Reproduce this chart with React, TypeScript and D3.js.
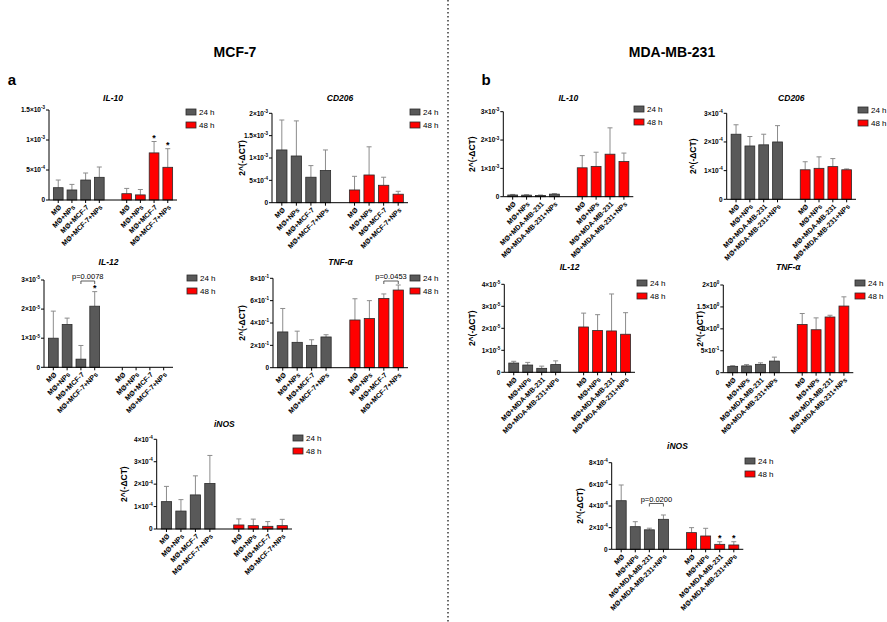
import React from "react";
import * as d3 from "d3";

const MCF_GROUPS = ["MØ", "MØ+NPs", "MØ+MCF-7", "MØ+MCF-7+NPs"];
const MDA_GROUPS = ["MØ", "MØ+NPs", "MØ+MDA-MB-231", "MØ+MDA-MB-231+NPs"];
const TIMES = ["24 h", "48 h"];

// a: MCF-7 (mean, upper SD)
const mcfIl10Mean24 = [2.05e-4, 1.67e-4, 3.33e-4, 3.78e-4];
const mcfIl10Sd24 = [1.28e-4, 0.93e-4, 1.17e-4, 1.72e-4];
const mcfIl10Mean48 = [1.05e-4, 0.85e-4, 7.85e-4, 5.45e-4];
const mcfIl10Sd48 = [0.88e-4, 0.9e-4, 1.9e-4, 3.1e-4];

const mcfCd206Mean24 = [1.18e-3, 1.045e-3, 0.57e-3, 0.72e-3];
const mcfCd206Sd24 = [0.67e-3, 0.785e-3, 0.26e-3, 0.46e-3];
const mcfCd206Mean48 = [0.285e-3, 0.62e-3, 0.39e-3, 0.19e-3];
const mcfCd206Sd48 = [0.305e-3, 0.63e-3, 0.18e-3, 0.065e-3];

const mcfIl12Mean24 = [1.0e-5, 1.47e-5, 0.28e-5, 2.1e-5];
const mcfIl12Sd24 = [0.93e-5, 0.22e-5, 0.47e-5, 0.5e-5];
const mcfIl12Mean48 = [0, 0, 0, 0];
const mcfIl12Sd48 = [0, 0, 0, 0];

const mcfTnfMean24 = [0.32, 0.227, 0.2, 0.275];
const mcfTnfSd24 = [0.21, 0.1, 0.05, 0.02];
const mcfTnfMean48 = [0.427, 0.44, 0.62, 0.695];
const mcfTnfSd48 = [0.19, 0.16, 0.04, 0.045];

const mcfInosMean24 = [1.22e-4, 0.8e-4, 1.52e-4, 2.03e-4];
const mcfInosSd24 = [0.68e-4, 0.51e-4, 0.85e-4, 1.25e-4];
const mcfInosMean48 = [0.18e-4, 0.15e-4, 0.12e-4, 0.15e-4];
const mcfInosSd48 = [0.27e-4, 0.29e-4, 0.21e-4, 0.28e-4];

// b: MDA-MB-231
const mdaIl10Mean24 = [0.06e-3, 0.055e-3, 0.045e-3, 0.09e-3];
const mdaIl10Sd24 = [0.02e-3, 0.015e-3, 0.015e-3, 0.02e-3];
const mdaIl10Mean48 = [1.02e-3, 1.07e-3, 1.5e-3, 1.24e-3];
const mdaIl10Sd48 = [0.43e-3, 0.5e-3, 0.93e-3, 0.3e-3];

const mdaCd206Mean24 = [2.27e-4, 1.86e-4, 1.9e-4, 2.0e-4];
const mdaCd206Sd24 = [0.33e-4, 0.33e-4, 0.37e-4, 0.57e-4];
const mdaCd206Mean48 = [1.03e-4, 1.08e-4, 1.14e-4, 1.03e-4];
const mdaCd206Sd48 = [0.28e-4, 0.4e-4, 0.28e-4, 0.03e-4];

const mdaIl12Mean24 = [0.42e-5, 0.33e-5, 0.18e-5, 0.35e-5];
const mdaIl12Sd24 = [0.08e-5, 0.12e-5, 0.1e-5, 0.17e-5];
const mdaIl12Mean48 = [2.06e-5, 1.9e-5, 1.88e-5, 1.73e-5];
const mdaIl12Sd48 = [0.63e-5, 0.72e-5, 1.68e-5, 0.98e-5];

const mdaTnfMean24 = [0.145, 0.155, 0.19, 0.265];
const mdaTnfSd24 = [0.015, 0.03, 0.035, 0.09];
const mdaTnfMean48 = [1.1, 0.98, 1.27, 1.52];
const mdaTnfSd48 = [0.25, 0.27, 0.04, 0.21];

const mdaInosMean24 = [4.49e-4, 2.09e-4, 1.8e-4, 2.77e-4];
const mdaInosSd24 = [1.45e-4, 0.46e-4, 0.15e-4, 0.4e-4];
const mdaInosMean48 = [1.54e-4, 1.23e-4, 0.46e-4, 0.4e-4];
const mdaInosSd48 = [0.46e-4, 0.71e-4, 0.24e-4, 0.3e-4];

const FONT = "'Liberation Sans', Arial, sans-serif";
const GRAY = "#595959";
const RED = "#ff0000";
const EDGE = "#2b2b2b";
const WHISKER = "#8c8c8c";

// panel options: data refs + layout
const PANELS = [
  { title: "IL-10", groups: MCF_GROUPS, m24: mcfIl10Mean24, s24: mcfIl10Sd24, m48: mcfIl10Mean48, s48: mcfIl10Sd48,
    x0: 49, x1: 177, y0: 200, yTop: 110, max: 1.5e-3, step: 5e-4, titleY: 98, legX: 186, legY: 112, stars48: [2, 3] },
  { title: "CD206", groups: MCF_GROUPS, m24: mcfCd206Mean24, s24: mcfCd206Sd24, m48: mcfCd206Mean48, s48: mcfCd206Sd48,
    x0: 272, x1: 408, y0: 202.7, yTop: 113.3, max: 2e-3, step: 5e-4, titleY: 98, legX: 410, legY: 112, yLabelX: 242 },
  { title: "IL-12", groups: MCF_GROUPS, m24: mcfIl12Mean24, s24: mcfIl12Sd24, m48: mcfIl12Mean48, s48: mcfIl12Sd48,
    x0: 44, x1: 173, y0: 367.3, yTop: 280, max: 3e-5, step: 1e-5, titleY: 262, legX: 187, legY: 278, stars24: [3],
    bracket: { series: 24, from: 2, to: 3, y: 281, label: "p=0.0078" } },
  { title: "TNF-α", groups: MCF_GROUPS, m24: mcfTnfMean24, s24: mcfTnfSd24, m48: mcfTnfMean48, s48: mcfTnfSd48,
    x0: 273, x1: 408, y0: 367.7, yTop: 278.3, max: 0.8, step: 0.2, titleY: 262, legX: 410, legY: 278, yLabelX: 242,
    bracket: { series: 48, from: 2, to: 3, y: 281, label: "p=0.0453" } },
  { title: "iNOS", groups: MCF_GROUPS, m24: mcfInosMean24, s24: mcfInosSd24, m48: mcfInosMean48, s48: mcfInosSd48,
    x0: 156.7, x1: 292, y0: 529, yTop: 439.3, max: 4e-4, step: 1e-4, titleY: 424, legX: 293, legY: 438, yLabelX: 124 },
  { title: "IL-10", groups: MDA_GROUPS, m24: mdaIl10Mean24, s24: mdaIl10Sd24, m48: mdaIl10Mean48, s48: mdaIl10Sd48,
    x0: 503.3, x1: 633.3, y0: 196.7, yTop: 111.7, max: 3e-3, step: 1e-3, titleY: 98, legX: 634, legY: 109, yLabelX: 472 },
  { title: "CD206", groups: MDA_GROUPS, m24: mdaCd206Mean24, s24: mdaCd206Sd24, m48: mdaCd206Mean48, s48: mdaCd206Sd48,
    x0: 726.7, x1: 856, y0: 199.3, yTop: 113.3, max: 3e-4, step: 1e-4, titleY: 98, legX: 858, legY: 110, yLabelX: 693 },
  { title: "IL-12", groups: MDA_GROUPS, m24: mdaIl12Mean24, s24: mdaIl12Sd24, m48: mdaIl12Mean48, s48: mdaIl12Sd48,
    x0: 504.3, x1: 635, y0: 372.3, yTop: 284.3, max: 4e-5, step: 1e-5, titleY: 267, legX: 637, legY: 283, yLabelX: 472 },
  { title: "TNF-α", groups: MDA_GROUPS, m24: mdaTnfMean24, s24: mdaTnfSd24, m48: mdaTnfMean48, s48: mdaTnfSd48,
    x0: 723.3, x1: 853.3, y0: 372.7, yTop: 285, max: 2, step: 0.5, titleY: 267, legX: 855, legY: 283, yLabelX: 700 },
  { title: "iNOS", groups: MDA_GROUPS, m24: mdaInosMean24, s24: mdaInosSd24, m48: mdaInosMean48, s48: mdaInosSd48,
    x0: 611.7, x1: 743.3, y0: 549.3, yTop: 462.7, max: 8e-4, step: 2e-4, titleY: 446, legX: 745, legY: 461, yLabelX: 580,
    stars48: [2, 3], bracket: { series: 24, from: 2, to: 3, y: 503.5, label: "p=0.0200" } },
];

function fmtTick(v: number) {
  if (v === 0) return { m: "0", e: null as string | null };
  const e = Math.floor(Math.log10(v) + 1e-9);
  const m = +(v / Math.pow(10, e)).toFixed(2);
  return { m: `${m}×10`, e: `${e}` };
}

function Panel({ p }: { p: any }) {
  const slots = [...p.groups.map((_: string, i: number) => `a${i}`), "gap", ...p.groups.map((_: string, i: number) => `b${i}`)];
  const x = d3.scaleBand().domain(slots).range([p.x0, p.x1]).paddingInner(0.29).paddingOuter(0.32);
  const y = d3.scaleLinear().domain([0, p.max]).range([p.y0, p.yTop]);
  const ticks = d3.range(0, p.max + p.step / 2, p.step);
  const bw = x.bandwidth();
  const series = [
    { key: 24, pre: "a", mean: p.m24, sd: p.s24, color: GRAY, stars: p.stars24 || [] },
    { key: 48, pre: "b", mean: p.m48, sd: p.s48, color: RED, stars: p.stars48 || [] },
  ];
  const cx = (pre: string, i: number) => (x(`${pre}${i}`) as number) + bw / 2;

  return (
    <g>
      <text x={(p.x0 + p.x1) / 2} y={p.titleY} dy="0.35em" textAnchor="middle" fontSize={8.5}
        fontWeight="bold" fontStyle="italic">{p.title}</text>

      {series.map(s => s.mean.map((v: number, i: number) => {
        const c = cx(s.pre, i);
        const top = y(v + s.sd[i]);
        return (
          <g key={`${s.key}-${i}`}>
            {v > 0 && (
              <line x1={c} x2={c} y1={y(v)} y2={top} stroke={WHISKER} strokeWidth={1} />
            )}
            {v > 0 && (
              <line x1={c - 2.5} x2={c + 2.5} y1={top} y2={top} stroke={WHISKER} strokeWidth={1} />
            )}
            {v > 0 && (
              <rect x={x(`${s.pre}${i}`)} y={y(v)} width={bw} height={p.y0 - y(v)}
                fill={s.color} stroke={EDGE} strokeWidth={0.8} />
            )}
            {s.stars.includes(i) && (
              <text x={c} y={top - 1} textAnchor="middle" fontSize={9} fontWeight="bold">*</text>
            )}
          </g>
        );
      }))}

      {/* axes */}
      <line x1={p.x0} x2={p.x0} y1={p.y0} y2={p.yTop} stroke="#000" strokeWidth={1} />
      <line x1={p.x0} x2={p.x1} y1={p.y0} y2={p.y0} stroke="#000" strokeWidth={1} />
      {ticks.map((t: number) => {
        const f = fmtTick(t);
        return (
          <g key={t}>
            <line x1={p.x0 - 3} x2={p.x0} y1={y(t)} y2={y(t)} stroke="#000" strokeWidth={1} />
            <text x={p.x0 - 4} y={y(t)} dy="0.35em" textAnchor="end" fontSize={6.5} fontWeight="600">
              {f.m}
              {f.e !== null && <tspan dy={-2.8} fontSize={4.5}>{f.e}</tspan>}
            </text>
          </g>
        );
      })}
      {series.map(s => p.groups.map((g: string, i: number) => {
        const c = cx(s.pre, i);
        return (
          <g key={`t${s.key}-${i}`}>
            <line x1={c} x2={c} y1={p.y0} y2={p.y0 + 3} stroke="#000" strokeWidth={1} />
            <text transform={`translate(${c + 2},${p.y0 + 6}) rotate(-45)`} textAnchor="end" dy="0.35em"
              fontSize={7} fontWeight="bold">{g}</text>
          </g>
        );
      }))}

      {p.yLabelX !== undefined && (
        <text transform={`translate(${p.yLabelX},${(p.y0 + p.yTop) / 2}) rotate(-90)`} textAnchor="middle"
          dy="0.35em" fontSize={8.5} fontWeight="bold">2^(-ΔCT)</text>
      )}

      {p.bracket && (() => {
        const pre = p.bracket.series === 24 ? "a" : "b";
        const xa = cx(pre, p.bracket.from);
        const xb = cx(pre, p.bracket.to);
        const by = p.bracket.y;
        return (
          <g>
            <path d={`M${xa},${by + 3}V${by}H${xb}V${by + 3}`} fill="none" stroke="#333" strokeWidth={0.8} />
            <text x={(xa + xb) / 2} y={by - 2} textAnchor="middle" fontSize={7.5}>{p.bracket.label}</text>
          </g>
        );
      })()}

      {TIMES.map((t, k) => (
        <g key={t}>
          <rect x={p.legX} y={p.legY + k * 13 - 3} width={10} height={6} fill={k === 0 ? GRAY : RED}
            stroke={EDGE} strokeWidth={0.8} />
          <text x={p.legX + 13} y={p.legY + k * 13} dy="0.35em" fontSize={8}>{t}</text>
        </g>
      ))}
    </g>
  );
}

export default function App() {
  return (
    <svg width={887} height={622} style={{ position: "absolute", left: 0, top: 0 }} fontFamily={FONT}>
      <rect width={887} height={622} fill="#fff" />
      <line x1={448} x2={448} y1={0} y2={622} stroke="#444" strokeWidth={1.6} strokeDasharray="1.6 2.4" />
      <text x={235} y={52} dy="0.35em" textAnchor="middle" fontSize={14} fontWeight="bold">MCF-7</text>
      <text x={672} y={52} dy="0.35em" textAnchor="middle" fontSize={14} fontWeight="bold">MDA-MB-231</text>
      <text x={12} y={80} dy="0.35em" textAnchor="middle" fontSize={15} fontWeight="bold">a</text>
      <text x={486} y={80} dy="0.35em" textAnchor="middle" fontSize={15} fontWeight="bold">b</text>
      {PANELS.map((p, i) => <Panel key={i} p={p} />)}
    </svg>
  );
}
